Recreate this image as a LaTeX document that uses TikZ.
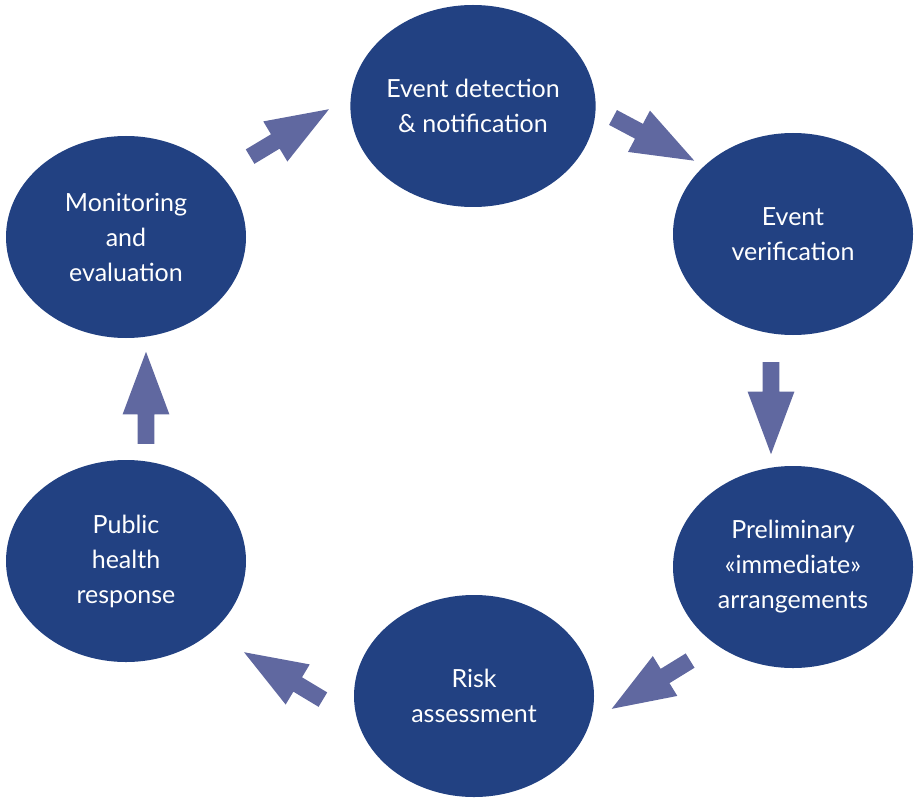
\documentclass[tikz,border=0pt]{standalone}
\usepackage{fontspec}
\setmainfont{Lato}
\usetikzlibrary{shapes.geometric,shapes.arrows}

\definecolor{phaseblue}{RGB}{34,65,130}
\definecolor{arrowblue}{RGB}{96,104,160}

\tikzset{
    phase/.style={ellipse, fill=phaseblue, text=white, inner sep=0pt,
        minimum width=120pt, minimum height=101pt, align=center,
        font=\fontsize{12.5}{17.5}\selectfont},
    blockarrow/.style={single arrow, fill=arrowblue, inner xsep=0pt, inner ysep=4pt,
        minimum height=46pt, minimum width=23pt,
        single arrow head extend=7.5pt, single arrow tip angle=41}
}

\begin{document}
\begin{tikzpicture}[x=0.5pt,y=-0.5pt]
        \useasboundingbox (0,0) rectangle (914,802);

        % Phases of the cycle
        \node[phase] (detect) at (473,106) {Event detection\\\& notification};
        \node[phase] (verify) at (793,234) {Event\\verification};
        \node[phase] (prelim) at (793,567) {Preliminary\\«immediate»\\arrangements};
        \node[phase] (risk) at (474,696) {Risk\\assessment};
        \node[phase] (response) at (126,561) {Public\\health\\response};
        \node[phase] (monitor) at (126,237) {Monitoring\\and\\evaluation};

        % Arrows between the phases
        \node[blockarrow, rotate=-28] (detect-verify) at (643.7,133.8) {};
        \node[blockarrow, rotate=-90] (verify-prelim) at (771,397) {};
        \node[blockarrow, rotate=-148.4] (prelim-risk) at (660.5,678.8) {};
        \node[blockarrow, rotate=149] (risk-response) at (293.1,681.7) {};
        \node[blockarrow, rotate=90] (response-monitor) at (146,409) {};
        \node[blockarrow, rotate=31] (monitor-detect) at (279.9,138.7) {};

\end{tikzpicture}
\end{document}
